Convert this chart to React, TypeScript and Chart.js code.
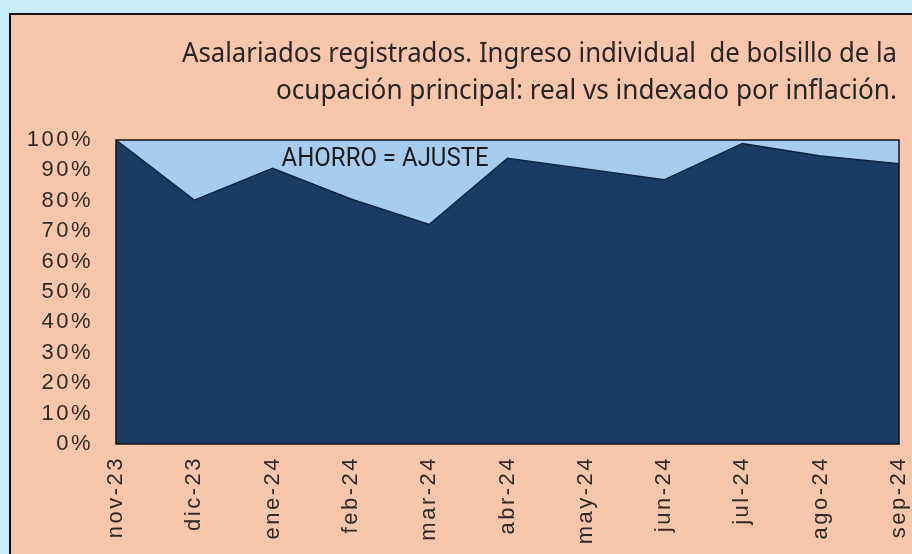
import React, { useEffect, useRef } from "react";
import { Chart, registerables } from "chart.js";

Chart.register(...registerables);

const categories = ["nov-23", "dic-23", "ene-24", "feb-24", "mar-24", "abr-24", "may-24", "jun-24", "jul-24", "ago-24", "sep-24"];
const realValues = [100, 80.2, 90.7, 80.6, 72.2, 94.0, 90.5, 86.9, 98.8, 94.7, 92.2];
const indexedValues = [100, 100, 100, 100, 100, 100, 100, 100, 100, 100, 100];
const titleLines = [
  "Asalariados registrados. Ingreso individual  de bolsillo de la",
  "ocupación principal: real vs indexado por inflación.",
];
const annotationText = "AHORRO = AJUSTE";

const letterSpacingPlugin = {
  id: "letterSpacing",
  beforeLayout(chart: any) {
    (chart.ctx as any).letterSpacing = "2.5px";
  },
  beforeDraw(chart: any) {
    (chart.ctx as any).letterSpacing = "2.5px";
  },
};

const decorPlugin = {
  id: "decor",
  afterDatasetsDraw(chart: any) {
    const { ctx, chartArea } = chart;
    ctx.save();
    ctx.strokeStyle = "#111";
    ctx.lineWidth = 1.5;
    ctx.strokeRect(chartArea.left, chartArea.top, chartArea.right - chartArea.left, chartArea.bottom - chartArea.top);
    (ctx as any).letterSpacing = "0px";
    const xs = chart.scales.x;
    const ys = chart.scales.y;
    ctx.fillStyle = "#1c1c1c";
    ctx.font = "25px Roboto";
    ctx.textAlign = "left";
    ctx.textBaseline = "alphabetic";
    const ax = xs.getPixelForValue(2) + 9;
    const ay = ys.getPixelForValue(91.5);
    ctx.fillText(annotationText, ax, ay, 207);
    ctx.restore();
  },
  afterDraw(chart: any) {
    const { ctx } = chart;
    ctx.save();
    (ctx as any).letterSpacing = "0px";
    ctx.fillStyle = "#262626";
    ctx.font = "28px 'Noto Sans'";
    ctx.textAlign = "right";
    ctx.textBaseline = "alphabetic";
    const right = chart.chartArea.right - 2;
    ctx.fillText(titleLines[0], right, 47, 715);
    ctx.fillText(titleLines[1], right, 84, 621);
    ctx.restore();
  },
};

export default function App() {
  const ref = useRef<HTMLCanvasElement | null>(null);
  useEffect(() => {
    if (!ref.current) return;
    const chart = new Chart(ref.current, {
      type: "line",
      data: {
        labels: categories,
        datasets: [
          {
            label: "Real",
            data: realValues,
            fill: "origin",
            backgroundColor: "#1a3c62",
            borderColor: "#0e2340",
            borderWidth: 1.5,
            pointRadius: 0,
            tension: 0,
          },
          {
            label: "Indexado por inflación",
            data: indexedValues,
            fill: "-1",
            backgroundColor: "#a8ccee",
            borderColor: "rgba(0,0,0,0)",
            borderWidth: 0,
            pointRadius: 0,
            tension: 0,
          },
        ],
      },
      options: {
        animation: false,
        responsive: false,
        maintainAspectRatio: false,
        layout: { padding: { top: 125, right: 13, left: 0, bottom: 0 } },
        plugins: {
          legend: { display: false },
          title: { display: false },
          tooltip: { enabled: false },
        },
        scales: {
          x: {
            type: "category",
            offset: false,
            grid: { display: false, drawTicks: false },
            border: { display: false },
            ticks: {
              minRotation: 90,
              maxRotation: 90,
              autoSkip: false,
              padding: 12,
              color: "#2e2a28",
              font: { family: "'Liberation Sans', Arial, sans-serif", size: 22 },
            },
            afterFit(scale: any) {
              scale.height = 110;
              scale.paddingLeft = 0;
              scale.paddingRight = 0;
            },
          },
          y: {
            min: 0,
            max: 100,
            grid: { display: false, drawTicks: false },
            border: { display: false },
            ticks: {
              stepSize: 10,
              padding: 23,
              color: "#2e2a28",
              font: { family: "'Liberation Sans', Arial, sans-serif", size: 22 },
              callback: (v: any) => v + "%",
            },
            afterFit(scale: any) {
              scale.width = 105;
              scale.paddingTop = 0;
              scale.paddingBottom = 0;
            },
          },
        },
      },
      plugins: [letterSpacingPlugin, decorPlugin],
    } as any);
    return () => chart.destroy();
  }, []);

  return (
    <div style={{ position: "absolute", left: 0, top: 0, width: 912, height: 554, background: "#c9ecfd", overflow: "hidden" }}>
      <div
        style={{
          position: "absolute",
          left: 9,
          top: 13,
          width: 901,
          height: 539,
          background: "#f7c6ac",
          borderLeft: "2px solid #111",
          borderTop: "2px solid #111",
        }}
      >
        <canvas ref={ref} width={901} height={539} style={{ display: "block", width: 901, height: 539 }} />
      </div>
    </div>
  );
}
